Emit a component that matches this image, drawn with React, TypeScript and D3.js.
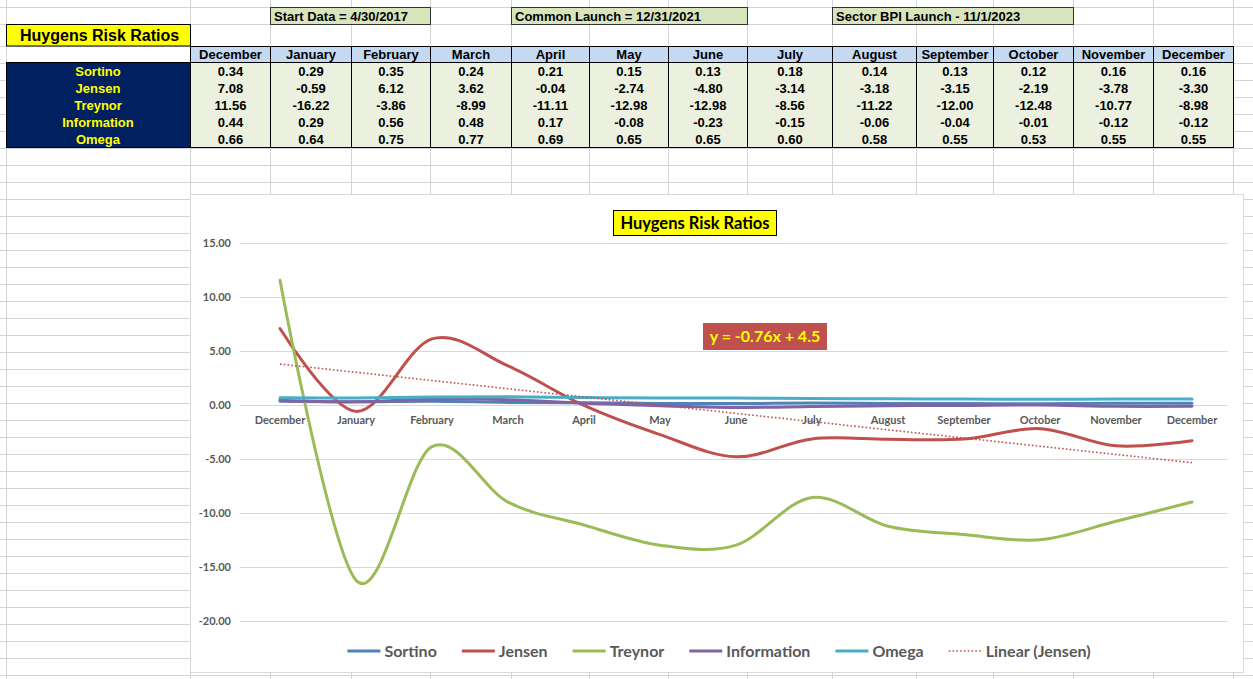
import React, { useEffect, useRef } from 'react';
import * as d3 from 'd3';

// chart data
const months = ["December", "January", "February", "March", "April", "May", "June", "July", "August", "September", "October", "November", "December"];
const sortino = [0.34, 0.29, 0.35, 0.24, 0.21, 0.15, 0.13, 0.18, 0.14, 0.13, 0.12, 0.16, 0.16];
const jensen = [7.08, -0.59, 6.12, 3.62, -0.04, -2.74, -4.80, -3.14, -3.18, -3.15, -2.19, -3.78, -3.30];
const treynor = [11.56, -16.22, -3.86, -8.99, -11.11, -12.98, -12.98, -8.56, -11.22, -12.00, -12.48, -10.77, -8.98];
const information = [0.44, 0.29, 0.56, 0.48, 0.17, -0.08, -0.23, -0.15, -0.06, -0.04, -0.01, -0.12, -0.12];
const omega = [0.66, 0.64, 0.75, 0.77, 0.69, 0.65, 0.65, 0.60, 0.58, 0.55, 0.53, 0.55, 0.55];
const seriesNames = ["Sortino", "Jensen", "Treynor", "Information", "Omega"];
const yTicks = [15, 10, 5, 0, -5, -10, -15, -20];
const title = "Huygens Risk Ratios";
const notes = ["Start Data = 4/30/2017", "Common Launch = 12/31/2021", "Sector BPI Launch - 11/1/2023"];

const W = 1253;
const H = 679;
const colEdges = [6, 190, 270, 351, 430, 511, 589, 668, 747, 832, 916, 993, 1073, 1153, 1233];
const noteCols = [[2, 4], [5, 8], [9, 12]];
const colors = ["#4F81BD", "#C0504D", "#9BBB59", "#8064A2", "#4BACC6"];
const sheetFont = "'Liberation Sans', Arial, sans-serif";
const chartFont = "Lato, 'Open Sans', sans-serif";
const axisGray = "#595959";

const App: React.FC = () => {
  const svgRef = useRef<SVGSVGElement>(null);

  useEffect(() => {
    if (!svgRef.current) return;
    const svg = d3.select(svgRef.current);
    svg.selectAll("*").remove();

    const series = [sortino, jensen, treynor, information, omega];

    // spreadsheet gridlines
    const rowLines = [7, 24, 46, ...d3.range(62.5, H, 17)];
    const sheet = svg.append("g").attr("stroke", "#d4d4d4").attr("stroke-width", 1);
    rowLines.forEach(yy => {
      sheet.append("line").attr("x1", 0).attr("x2", W).attr("y1", Math.round(yy) + 0.5).attr("y2", Math.round(yy) + 0.5);
    });
    colEdges.forEach(xx => {
      sheet.append("line").attr("x1", xx + 0.5).attr("x2", xx + 0.5).attr("y1", 0).attr("y2", H);
    });

    // note boxes on top row
    notes.forEach((n, i) => {
      const [a, b] = noteCols[i];
      const left = colEdges[a];
      const right = colEdges[b];
      svg.append("rect")
        .attr("x", left + 0.5).attr("y", 7.5)
        .attr("width", right - left).attr("height", 17)
        .attr("fill", "#D8E4BC").attr("stroke", "#333").attr("stroke-width", 1);
      svg.append("text")
        .attr("x", left + 4).attr("y", 20.5)
        .attr("font-family", sheetFont).attr("font-weight", "bold").attr("font-size", 13)
        .attr("fill", "#000").text(n);
    });

    // sheet title
    svg.append("rect").attr("x", 6.5).attr("y", 24.5).attr("width", 184).attr("height", 21.5)
      .attr("fill", "#FFFF00").attr("stroke", "#000");
    svg.append("text").attr("x", 20).attr("y", 41)
      .attr("font-family", sheetFont).attr("font-weight", "bold").attr("font-size", 16)
      .attr("fill", "#000").text(title);

    // table header
    const headTop = 46.5;
    const rowH = 17;
    const bodyTop = 62.5;
    months.forEach((m, i) => {
      const l = colEdges[i + 1];
      const r = colEdges[i + 2];
      svg.append("rect").attr("x", l + 0.5).attr("y", headTop).attr("width", r - l).attr("height", bodyTop - headTop)
        .attr("fill", "#C5D9F1").attr("stroke", "#000");
      svg.append("text").attr("x", (l + r) / 2 + 0.5).attr("y", headTop + 12.5)
        .attr("text-anchor", "middle")
        .attr("font-family", sheetFont).attr("font-weight", "bold").attr("font-size", 13)
        .attr("fill", "#000").text(m);
    });

    // table body
    const bodyH = rowH * series.length;
    svg.append("rect").attr("x", 6.5).attr("y", bodyTop).attr("width", 184).attr("height", bodyH)
      .attr("fill", "#002060").attr("stroke", "#000");
    svg.append("rect").attr("x", 190.5).attr("y", bodyTop).attr("width", colEdges[14] - 190).attr("height", bodyH)
      .attr("fill", "#EBF1DE").attr("stroke", "#000");
    colEdges.slice(2, 14).forEach(xx => {
      svg.append("line").attr("x1", xx + 0.5).attr("x2", xx + 0.5).attr("y1", bodyTop).attr("y2", bodyTop + bodyH)
        .attr("stroke", "#000");
    });
    series.forEach((vals, r) => {
      const base = bodyTop + r * rowH + 13;
      svg.append("text").attr("x", 98).attr("y", base).attr("text-anchor", "middle")
        .attr("font-family", sheetFont).attr("font-weight", "bold").attr("font-size", 13)
        .attr("fill", "#FFFF00").text(seriesNames[r]);
      vals.forEach((v, i) => {
        const l = colEdges[i + 1];
        const rr = colEdges[i + 2];
        svg.append("text").attr("x", (l + rr) / 2 + 0.5).attr("y", base).attr("text-anchor", "middle")
          .attr("font-family", sheetFont).attr("font-weight", "bold").attr("font-size", 13)
          .attr("fill", "#000").text(v.toFixed(2));
      });
    });

    // chart box
    svg.append("rect").attr("x", 190.5).attr("y", 194.5).attr("width", 1053).attr("height", 478)
      .attr("fill", "#fff").attr("stroke", "#d9d9d9");

    const x = d3.scaleBand<number>().domain(d3.range(months.length)).range([240, 1228]);
    const cx = (i: number) => (x(i) ?? 0) + x.bandwidth() / 2 + 2;
    const y = d3.scaleLinear().domain([-20, 15]).range([621, 243]);

    const g = svg.append("g");

    // gridlines + y labels
    yTicks.forEach(t => {
      g.append("line").attr("x1", 240).attr("x2", 1228)
        .attr("y1", Math.round(y(t)) + 0.5).attr("y2", Math.round(y(t)) + 0.5)
        .attr("stroke", "#d9d9d9");
      g.append("text").attr("x", 231).attr("y", y(t) + 4).attr("text-anchor", "end")
        .attr("font-family", chartFont).attr("font-weight", "bold").attr("font-size", 11)
        .attr("fill", axisGray).text(t.toFixed(2));
    });

    // category labels next to the zero line
    months.forEach((m, i) => {
      g.append("text").attr("x", cx(i)).attr("y", y(0) + 19).attr("text-anchor", "middle")
        .attr("font-family", chartFont).attr("font-weight", "bold").attr("font-size", 11)
        .attr("fill", axisGray).text(m);
    });

    // smoothed series lines
    const line = d3.line<number>()
      .x((_, i) => cx(i))
      .y(d => y(d))
      .curve(d3.curveCatmullRom.alpha(0));
    series.forEach((vals, s) => {
      g.append("path").datum(vals).attr("d", line)
        .attr("fill", "none").attr("stroke", colors[s]).attr("stroke-width", 3)
        .attr("stroke-linecap", "round");
    });

    // linear trend of Jensen (x = 1..n, as Excel does)
    const xs = jensen.map((_, i) => i + 1);
    const mx = d3.mean(xs)!;
    const my = d3.mean(jensen)!;
    const slope = d3.sum(xs, (xv, i) => (xv - mx) * (jensen[i] - my)) / d3.sum(xs, xv => (xv - mx) ** 2);
    const intercept = my - slope * mx;
    const trend = xs.map(xv => slope * xv + intercept);
    g.append("path").datum(trend)
      .attr("d", d3.line<number>().x((_, i) => cx(i)).y(d => y(d)))
      .attr("fill", "none").attr("stroke", colors[1]).attr("stroke-width", 1.6)
      .attr("stroke-dasharray", "1.6,2.2");

    // chart title
    g.append("rect").attr("x", 613.5).attr("y", 210.5).attr("width", 163).attr("height", 25)
      .attr("fill", "#FFFF00").attr("stroke", "#000");
    g.append("text").attr("x", 695).attr("y", 228.5).attr("text-anchor", "middle")
      .attr("font-family", chartFont).attr("font-weight", "bold").attr("font-size", 16.5)
      .attr("fill", "#000").text(title);

    // equation label
    const eq = `y = ${slope.toFixed(2)}x + ${intercept.toFixed(1)}`;
    g.append("rect").attr("x", 703).attr("y", 323).attr("width", 124).attr("height", 27)
      .attr("fill", "#C0504D");
    g.append("text").attr("x", 765).attr("y", 342).attr("text-anchor", "middle")
      .attr("font-family", chartFont).attr("font-weight", "bold").attr("font-size", 16)
      .attr("fill", "#FFFF00").text(eq);

    // legend
    const legendItems = [...seriesNames.map((n, i) => ({ name: n, color: colors[i], dotted: false })),
      { name: "Linear (Jensen)", color: colors[1], dotted: true }];
    const lg = g.append("g");
    const legY = 651;
    const sw = 33;
    const gap = 25;
    let cursor = 0;
    legendItems.forEach(item => {
      lg.append("line").attr("x1", cursor).attr("x2", cursor + sw).attr("y1", legY).attr("y2", legY)
        .attr("stroke", item.color).attr("stroke-width", item.dotted ? 1.6 : 3)
        .attr("stroke-dasharray", item.dotted ? "1.6,2.2" : null);
      const t = lg.append("text").attr("x", cursor + sw + 4).attr("y", legY + 5.5)
        .attr("font-family", chartFont).attr("font-weight", "bold").attr("font-size", 16)
        .attr("fill", axisGray).text(item.name);
      const tw = (t.node() as SVGTextElement).getComputedTextLength();
      cursor += sw + 4 + tw + gap;
    });
    const total = cursor - gap;
    lg.attr("transform", `translate(${719 - total / 2},0)`);
  }, []);

  return (
    <svg ref={svgRef} width={W} height={H}
      style={{ position: 'absolute', left: 0, top: 0, background: '#fff', display: 'block' }} />
  );
};

export default App;
